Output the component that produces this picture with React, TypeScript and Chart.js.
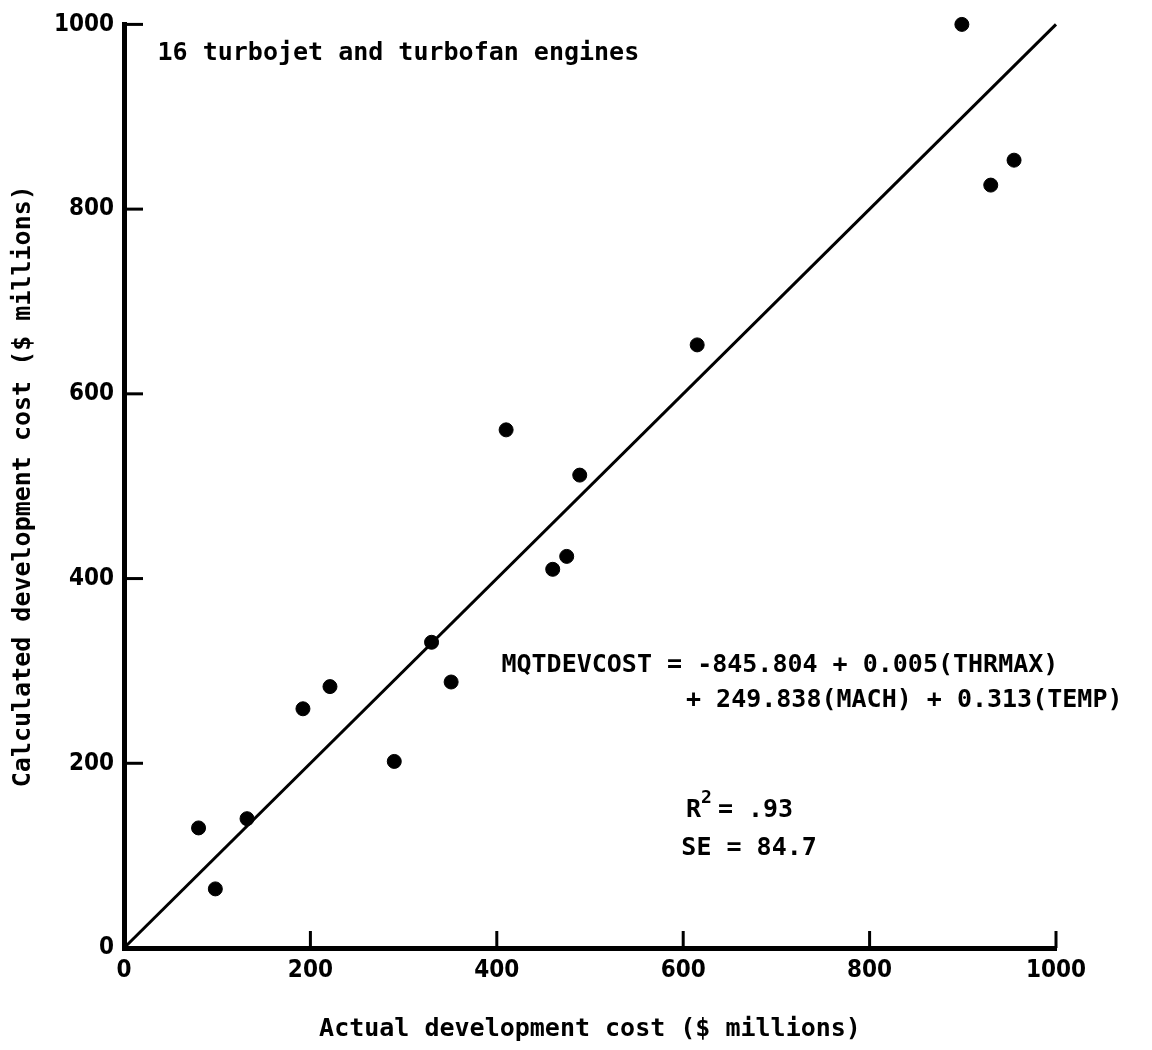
import React, { useEffect, useRef } from "react";
import { Chart, registerables } from "chart.js";

Chart.register(...registerables);

// ---- data ----
const actualCost = [80, 98, 132, 192, 221, 290, 330, 351, 410, 460, 475, 489, 615, 899, 930, 955];
const calculatedCost = [130, 64, 140, 259, 283, 202, 331, 288, 561, 410, 424, 512, 653, 1000, 826, 853];
const fitLineX = [0, 1000];
const fitLineY = [0, 1000];
const tickValues = [0, 200, 400, 600, 800, 1000];
const tickLabels = ["0", "200", "400", "600", "800", "1000"];

const xTitle = "Actual development cost ($ millions)";
const yTitle = "Calculated development cost ($ millions)";

const noteTexts = [
  "16 turbojet and turbofan engines",
  "MQTDEVCOST = -845.804 + 0.005(THRMAX)",
  "+ 249.838(MACH) + 0.313(TEMP)",
  "SE = 84.7",
];
const noteX = [36, 405, 603, 598];
const noteY = [968, 306, 268, 108];

const r2Base = "R";
const r2Sup = "2";
const r2Rest = "= .93";
const r2X = 603;
const r2Y = 149;

const FONT = '"DejaVu Sans Mono", monospace';
const TICK_FONT = '"DejaVu Sans Condensed", "DejaVu Sans Mono", sans-serif';

const inwardTicks = {
  id: "inwardTicks",
  afterDraw(chart: any) {
    const { ctx, scales, chartArea } = chart;
    const xs = scales.x;
    const ys = scales.y;
    ctx.save();
    ctx.strokeStyle = "#000";
    ctx.lineWidth = 3;
    ctx.lineCap = "butt";
    tickValues.forEach((v) => {
      if (v === 0) return;
      const py = ys.getPixelForValue(v);
      ctx.beginPath();
      ctx.moveTo(chartArea.left, py);
      ctx.lineTo(chartArea.left + 19, py);
      ctx.stroke();
      const px = xs.getPixelForValue(v);
      ctx.beginPath();
      ctx.moveTo(px, chartArea.bottom);
      ctx.lineTo(px, chartArea.bottom - 17);
      ctx.stroke();
    });
    ctx.restore();
  },
};

const notes = {
  id: "notes",
  afterDraw(chart: any) {
    const { ctx, scales } = chart;
    const xs = scales.x;
    const ys = scales.y;
    ctx.save();
    ctx.fillStyle = "#000";
    ctx.textAlign = "left";
    ctx.textBaseline = "middle";
    ctx.font = `bold 25px ${FONT}`;
    noteTexts.forEach((t, i) => {
      ctx.fillText(t, xs.getPixelForValue(noteX[i]), ys.getPixelForValue(noteY[i]));
    });
    const rx = xs.getPixelForValue(r2X);
    const ry = ys.getPixelForValue(r2Y);
    ctx.fillText(r2Base, rx, ry);
    const w = ctx.measureText(r2Base).width;
    ctx.font = `bold 18px ${FONT}`;
    ctx.fillText(r2Sup, rx + w, ry - 12);
    const w2 = ctx.measureText(r2Sup).width;
    ctx.font = `bold 25px ${FONT}`;
    ctx.fillText(r2Rest, rx + w + w2 + 6, ry);
    ctx.restore();
  },
};

const labelFor = (v: number) => {
  const i = tickValues.indexOf(v);
  return i >= 0 ? tickLabels[i] : "";
};

export default function App() {
  const ref = useRef<HTMLCanvasElement | null>(null);

  useEffect(() => {
    if (!ref.current) return;
    const chart = new Chart(ref.current, {
      type: "scatter",
      data: {
        datasets: [
          {
            type: "scatter",
            label: "Engines",
            data: actualCost.map((x, i) => ({ x, y: calculatedCost[i] })),
            backgroundColor: "#000",
            borderColor: "#000",
            pointRadius: 7,
            pointHoverRadius: 7,
            clip: false,
          } as any,
          {
            type: "line",
            label: "Fit",
            data: fitLineX.map((x, i) => ({ x, y: fitLineY[i] })),
            borderColor: "#000",
            borderWidth: 3,
            pointRadius: 0,
            fill: false,
            clip: false,
          } as any,
        ],
      },
      options: {
        responsive: false,
        animation: false,
        events: [],
        layout: { padding: { left: 0, top: 23, right: 96, bottom: 0 } },
        plugins: {
          legend: { display: false },
          tooltip: { enabled: false },
        },
        scales: {
          x: {
            type: "linear",
            min: 0,
            max: 1000,
            afterFit: (s: any) => {
              s.height = 102;
            },
            afterBuildTicks: (s: any) => {
              s.ticks = tickValues.map((v) => ({ value: v }));
            },
            grid: { display: false, drawTicks: false },
            border: { display: true, width: 5, color: "#000" },
            ticks: {
              color: "#000",
              padding: 8,
              maxRotation: 0,
              callback: (v: any) => labelFor(Number(v)),
              font: { family: TICK_FONT, size: 24, weight: "bold" },
            },
            title: {
              display: true,
              text: xTitle,
              color: "#000",
              padding: { top: 0, bottom: 6 },
              font: { family: FONT, size: 25, weight: "bold" },
            },
          },
          y: {
            type: "linear",
            min: 0,
            max: 1000,
            afterFit: (s: any) => {
              s.width = 124;
            },
            afterBuildTicks: (s: any) => {
              s.ticks = tickValues.map((v) => ({ value: v }));
            },
            grid: { display: false, drawTicks: false },
            border: { display: true, width: 5, color: "#000" },
            ticks: {
              color: "#000",
              padding: 10,
              callback: (v: any) => labelFor(Number(v)),
              font: { family: TICK_FONT, size: 24, weight: "bold" },
            },
            title: {
              display: true,
              text: yTitle,
              color: "#000",
              padding: { top: 8, bottom: 0 },
              font: { family: FONT, size: 25, weight: "bold" },
            },
          },
        },
      },
      plugins: [inwardTicks, notes],
    });
    return () => chart.destroy();
  }, []);

  return (
    <div style={{ position: "absolute", left: 0, top: 0, width: 1152, height: 1050, background: "#fff" }}>
      <canvas ref={ref} width={1152} height={1050} style={{ width: 1152, height: 1050 }} />
    </div>
  );
}
